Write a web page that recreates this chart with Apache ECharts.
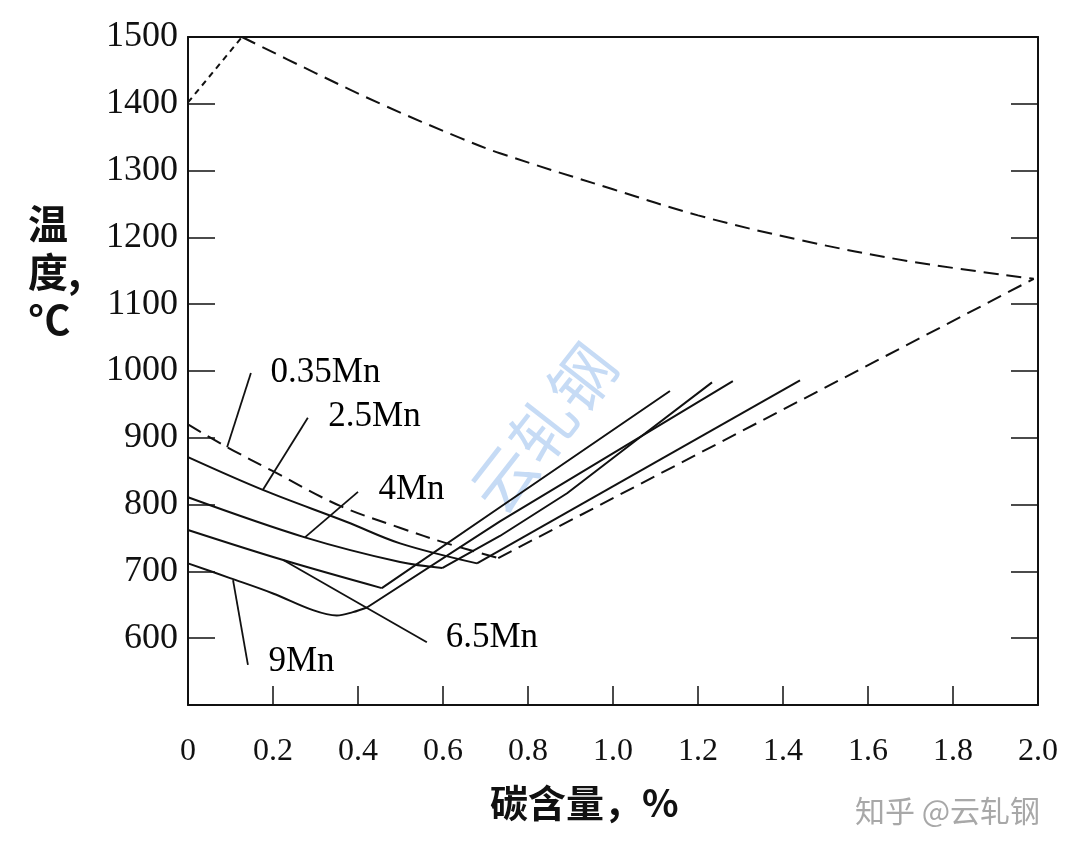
<!DOCTYPE html>
<html>
<head>
<meta charset="utf-8">
<script src="https://cdn.jsdelivr.net/npm/echarts@6/dist/echarts.min.js"></script>
<style>
html,body{margin:0;padding:0;background:#fff;}
#main{width:1080px;height:857px;}
</style>
</head>
<body>
<div id="main"></div>
<script>
// 坐标轴刻度
var xTicks = [0, 0.2, 0.4, 0.6, 0.8, 1.0, 1.2, 1.4, 1.6, 1.8, 2.0];
var yTicks = [500, 600, 700, 800, 900, 1000, 1100, 1200, 1300, 1400, 1500];

// 上方液相线(虚线)
var liquidusLeft = [[0, 1402], [0.127, 1500]];
var liquidusRight = [[0.127, 1500], [0.3, 1446], [0.46, 1398], [0.64, 1349], [0.734, 1326],
    [1.0, 1272], [1.2, 1233], [1.44, 1196], [1.7, 1164], [1.99, 1138]];

// 0.35Mn (虚线)
var mn035Down = [[0, 920], [0.092, 886], [0.2, 850], [0.358, 798], [0.5, 765], [0.609, 742], [0.73, 720]];
var mn035Up = [[0.73, 720], [1.99, 1138]];
// 2.5Mn
var mn25Down = [[0, 871], [0.176, 822], [0.374, 774], [0.499, 742], [0.68, 712]];
var mn25Up = [[0.68, 712], [1.44, 986]];
// 4Mn
var mn4Down = [[0, 811], [0.275, 751], [0.499, 714], [0.598, 705]];
var mn4Up = [[0.598, 705], [0.734, 753], [0.892, 817], [1.056, 897], [1.233, 983]];
// 6.5Mn
var mn65Down = [[0, 762], [0.224, 717], [0.456, 675]];
var mn65Up = [[0.456, 675], [0.734, 796], [1.134, 970]];
// 9Mn
var mn9Down = [[0, 712], [0.099, 690], [0.2, 667], [0.294, 642], [0.35, 634], [0.388, 639], [0.421, 646]];
var mn9Up = [[0.421, 646], [0.734, 775], [1.282, 985]];

// 标注引线
var leaders = [
    [[0.092, 886], [0.148, 997]],
    [[0.176, 822], [0.282, 930]],
    [[0.275, 751], [0.4, 819]],
    [[0.224, 717], [0.562, 594]],
    [[0.106, 687], [0.141, 560]]
];
// 标注文字 [x, y, 文字]
var curveLabels = [
    [0.193, 997, '0.35Mn'],
    [0.329, 932, '2.5Mn'],
    [0.447, 822, '4Mn'],
    [0.605, 600, '6.5Mn'],
    [0.188, 564, '9Mn']
];

var serif = "'Liberation Serif', 'Times New Roman', serif";
var cjk = "'Noto Sans CJK SC', sans-serif";

var seriesList = [];
function addLine(data, dash, smooth, width) {
    seriesList.push({
        type: 'line',
        data: data,
        symbol: 'none',
        smooth: smooth ? 0.35 : false,
        silent: true,
        animation: false,
        lineStyle: {color: '#111', width: width || 2, type: dash || 'solid'}
    });
}
addLine(liquidusLeft, [6, 5], false);
addLine(liquidusRight, [15, 8], true);
addLine(mn035Down, [15, 8], true);
addLine(mn035Up, [15, 8], false);
addLine(mn25Down, null, true);
addLine(mn25Up, null, false);
addLine(mn4Down, null, true);
addLine(mn4Up, null, false);
addLine(mn65Down, null, true);
addLine(mn65Up, null, false);
addLine(mn9Down, null, true);
addLine(mn9Up, null, false);
for (var i = 0; i < leaders.length; i++) {
    addLine(leaders[i], null, false, 1.8);
}
seriesList.push({
    type: 'scatter',
    symbolSize: 1,
    itemStyle: {opacity: 0},
    silent: true,
    animation: false,
    data: curveLabels.map(function (d) { return [d[0], d[1], d[2]]; }),
    label: {
        show: true,
        position: 'right',
        distance: 0,
        opacity: 1,
        formatter: function (p) { return p.data[2]; },
        color: '#000',
        fontSize: 35,
        fontFamily: serif
    }
});

var myChart = echarts.init(document.getElementById('main'));
var option = {
    backgroundColor: '#fff',
    animation: false,
    grid: {left: 188, right: 42, top: 37, bottom: 152},
    xAxis: [{
        type: 'value',
        min: xTicks[0],
        max: xTicks[xTicks.length - 1],
        interval: 0.2,
        axisLine: {onZero: false, lineStyle: {color: '#111', width: 2}},
        axisTick: {inside: true, length: 19, lineStyle: {color: '#111', width: 1.5}},
        splitLine: {show: false},
        axisLabel: {
            margin: 31,
            color: '#111',
            fontSize: 32,
            fontFamily: serif,
            formatter: function (v) { return v === 0 ? '0' : v.toFixed(1); }
        }
    }, {
        type: 'value',
        position: 'top',
        min: xTicks[0],
        max: xTicks[xTicks.length - 1],
        axisLine: {show: true, onZero: false, lineStyle: {color: '#111', width: 2}},
        axisTick: {show: false},
        axisLabel: {show: false},
        splitLine: {show: false}
    }],
    yAxis: [{
        type: 'value',
        min: yTicks[0],
        max: yTicks[yTicks.length - 1],
        interval: 100,
        axisLine: {show: true, onZero: false, lineStyle: {color: '#111', width: 2}},
        axisTick: {inside: true, length: 27, lineStyle: {color: '#111', width: 1.5}},
        splitLine: {show: false},
        axisLabel: {
            margin: 10,
            color: '#111',
            fontSize: 36,
            fontFamily: serif,
            formatter: function (v) { return v === 500 ? '' : String(v); }
        }
    }, {
        type: 'value',
        position: 'right',
        min: yTicks[0],
        max: yTicks[yTicks.length - 1],
        interval: 100,
        axisLine: {show: true, onZero: false, lineStyle: {color: '#111', width: 2}},
        axisTick: {inside: true, length: 27, lineStyle: {color: '#111', width: 1.5}},
        axisLabel: {show: false},
        splitLine: {show: false}
    }],
    graphic: [
        {
            type: 'text', left: 28, top: 200,
            style: {text: '温\n度,\n°C', font: 'bold 40px ' + cjk, lineHeight: 48, fill: '#111', align: 'center'}
        },
        {
            type: 'text', left: 490, top: 784,
            style: {text: '碳含量，%', font: 'bold 38px ' + cjk, fill: '#111'}
        },
        {
            type: 'text', x: 543, y: 428, rotation: Math.PI * 52 / 180,
            style: {text: '云轧钢', font: '64px ' + cjk, fill: 'rgba(120,170,230,0.42)', align: 'center', verticalAlign: 'middle'}
        },
        {
            type: 'text', left: 855, top: 796,
            style: {text: '知乎 @云轧钢', font: '30px ' + cjk, fill: '#a8a8a8'}
        }
    ],
    series: seriesList
};
myChart.setOption(option, true);
</script>
</body>
</html>
